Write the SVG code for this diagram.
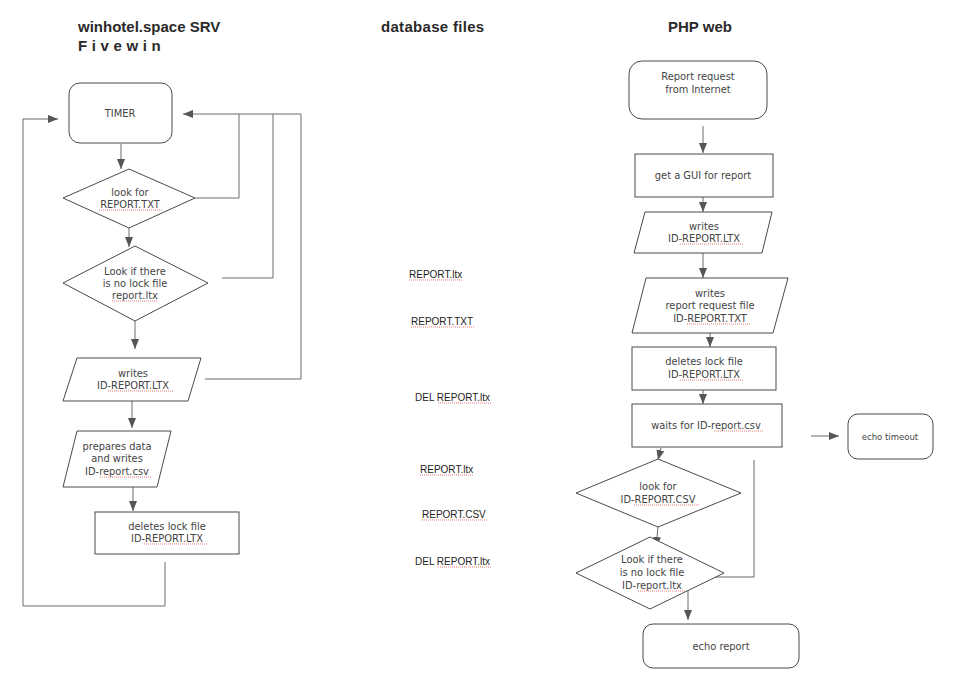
<svg xmlns="http://www.w3.org/2000/svg" width="959" height="689" viewBox="0 0 959 689">
<style>
.title{font-family:"Liberation Sans",Arial,sans-serif;font-weight:bold;font-size:15px;fill:#2a2a2a}
.node{fill:#fff;stroke:#4a4a4a;stroke-width:1}
.t{font-family:"DejaVu Sans",Verdana,sans-serif;font-size:9.9px;fill:#444;text-anchor:middle}
.db{font-family:"Liberation Sans",Arial,sans-serif;font-size:10px;fill:#222}
.c{fill:none;stroke:#6a6a6a;stroke-width:1}
.sq{fill:none;stroke:#e04040;stroke-width:0.7;stroke-dasharray:1 1}
</style>
<defs>
<marker id="ah" markerUnits="userSpaceOnUse" markerWidth="10" markerHeight="10" viewBox="0 0 10 10" refX="10" refY="5" orient="auto">
<path d="M0,1 L10,5 L0,9 Z" fill="#555"/>
</marker>
</defs>

<text class="title" x="78" y="32">winhotel.space SRV</text>
<text class="title" x="78" y="51" letter-spacing="4.6">Fivewin</text>
<text class="title" x="381" y="32" letter-spacing="0.3">database files</text>
<text class="title" x="668" y="32">PHP web</text>

<g id="connectors">
<path class="c" d="M121,144 V169" marker-end="url(#ah)"/>
<path class="c" d="M195,198 H239 V114 H183" marker-end="url(#ah)"/>
<path class="c" d="M129,228 V247" marker-end="url(#ah)"/>
<path class="c" d="M222,278 H273 V114"/>
<path class="c" d="M205,379 H301 V114 H239"/>
<path class="c" d="M135,321 V349" marker-end="url(#ah)"/>
<path class="c" d="M132,401 V428" marker-end="url(#ah)"/>
<path class="c" d="M133,487 V511" marker-end="url(#ah)"/>
<path class="c" d="M165,562 V606 H23 V119 H58" marker-end="url(#ah)"/>
<path class="c" d="M703,126 V153" marker-end="url(#ah)"/>
<path class="c" d="M703,197 V212" marker-end="url(#ah)"/>
<path class="c" d="M703,253 V278" marker-end="url(#ah)"/>
<path class="c" d="M710,333 V347" marker-end="url(#ah)"/>
<path class="c" d="M703,390 V404" marker-end="url(#ah)"/>
<path class="c" d="M661,448 L658,460" marker-end="url(#ah)"/>
<path class="c" d="M658,527 L656,547" marker-end="url(#ah)"/>
<path class="c" d="M688,588 V620" marker-end="url(#ah)"/>
<path class="c" d="M754,460 V577 H704"/>
<path class="c" d="M811,436 H839" marker-end="url(#ah)"/>
</g>

<g id="timer">
<rect class="node" x="69" y="83" width="103" height="60" rx="11"/>
<text class="t" x="120" y="117">TIMER</text>
</g>
<g id="lookReportTxt">
<path class="node" d="M129,169 L195,198 L129,228 L63,198 Z"/>
<text class="t" x="130" y="196">look for</text>
<text class="t" x="130" y="208">REPORT.TXT</text>
<path class="sq" d="M99,210 H162"/>
</g>
<g id="lookNoLock">
<path class="node" d="M135,246 L208,283 L135,321 L63,283 Z"/>
<text class="t" x="135" y="275">Look if there</text>
<text class="t" x="135" y="287">is no lock file</text>
<text class="t" x="135" y="299">report.ltx</text>
<path class="sq" d="M112,301 H158"/>
</g>
<g id="writesLtx">
<path class="node" d="M77,358 L201,358 L188,401 L63,401 Z"/>
<text class="t" x="133" y="377">writes</text>
<text class="t" x="133" y="389">ID-REPORT.LTX</text>
<path class="sq" d="M108,391 H173"/>
</g>
<g id="preparesData">
<path class="node" d="M77,431 L171,431 L157,487 L63,487 Z"/>
<text class="t" x="117" y="450">prepares data</text>
<text class="t" x="117" y="462">and writes</text>
<text class="t" x="117" y="475">ID-report.csv</text>
<path class="sq" d="M100,477 H152"/>
</g>
<g id="deletesLockLeft">
<rect class="node" x="95" y="512" width="144" height="42"/>
<text class="t" x="167" y="530">deletes lock file</text>
<text class="t" x="167" y="542">ID-REPORT.LTX</text>
<path class="sq" d="M144,544 H207"/>
</g>

<g id="dbFiles">
<text class="db" x="409" y="278">REPORT.ltx</text>
<path class="sq" d="M409,280 H463"/>
<text class="db" x="411" y="325">REPORT.TXT</text>
<path class="sq" d="M411,327 H475"/>
<text class="db" x="415" y="401">DEL REPORT.ltx</text>
<path class="sq" d="M438,403 H492"/>
<text class="db" x="420" y="473">REPORT.ltx</text>
<path class="sq" d="M420,475 H474"/>
<text class="db" x="422" y="518">REPORT.CSV</text>
<path class="sq" d="M422,520 H487"/>
<text class="db" x="415" y="565">DEL REPORT.ltx</text>
<path class="sq" d="M438,567 H492"/>
</g>

<g id="reportRequest">
<rect class="node" x="629" y="61" width="138" height="58" rx="13"/>
<text class="t" x="698" y="80">Report request</text>
<text class="t" x="698" y="93">from Internet</text>
</g>
<g id="getGui">
<rect class="node" x="635" y="154" width="138" height="43"/>
<text class="t" x="703" y="179">get a GUI for report</text>
</g>
<g id="writesLtxRight">
<path class="node" d="M645,212 L772,212 L762,253 L634,253 Z"/>
<text class="t" x="704" y="230">writes</text>
<text class="t" x="704" y="242">ID-REPORT.LTX</text>
<path class="sq" d="M680,244 H743"/>
</g>
<g id="writesTxt">
<path class="node" d="M646,278 L788,278 L773,333 L632,333 Z"/>
<text class="t" x="710" y="297">writes</text>
<text class="t" x="710" y="309">report request file</text>
<text class="t" x="710" y="322">ID-REPORT.TXT</text>
<path class="sq" d="M687,324 H751"/>
</g>
<g id="deletesLockRight">
<rect class="node" x="632" y="347" width="144" height="43"/>
<text class="t" x="704" y="365">deletes lock file</text>
<text class="t" x="704" y="378">ID-REPORT.LTX</text>
<path class="sq" d="M680,380 H743"/>
</g>
<g id="waitsCsv">
<rect class="node" x="632" y="404" width="150" height="43"/>
<text class="t" x="706" y="429">waits for ID-report.csv</text>
<path class="sq" d="M714,431 H763"/>
</g>
<g id="echoTimeout">
<rect class="node" x="848" y="414" width="85" height="45" rx="10"/>
<text class="t" x="890" y="440" style="font-size:8.5px">echo timeout</text>
</g>
<g id="lookCsv">
<path class="node" d="M658,459 L741,493 L658,527 L576,493 Z"/>
<text class="t" x="658" y="490">look for</text>
<text class="t" x="658" y="503">ID-REPORT.CSV</text>
<path class="sq" d="M634,505 H699"/>
</g>
<g id="lookNoLockRight">
<path class="node" d="M650,537 L724,573 L650,609 L576,573 Z"/>
<text class="t" x="652" y="563">Look if there</text>
<text class="t" x="652" y="576">is no lock file</text>
<text class="t" x="652" y="589">ID-report.ltx</text>
<path class="sq" d="M638,591 H686"/>
</g>
<g id="echoReport">
<rect class="node" x="643" y="624" width="156" height="44" rx="10"/>
<text class="t" x="721" y="650">echo report</text>
</g>
</svg>
